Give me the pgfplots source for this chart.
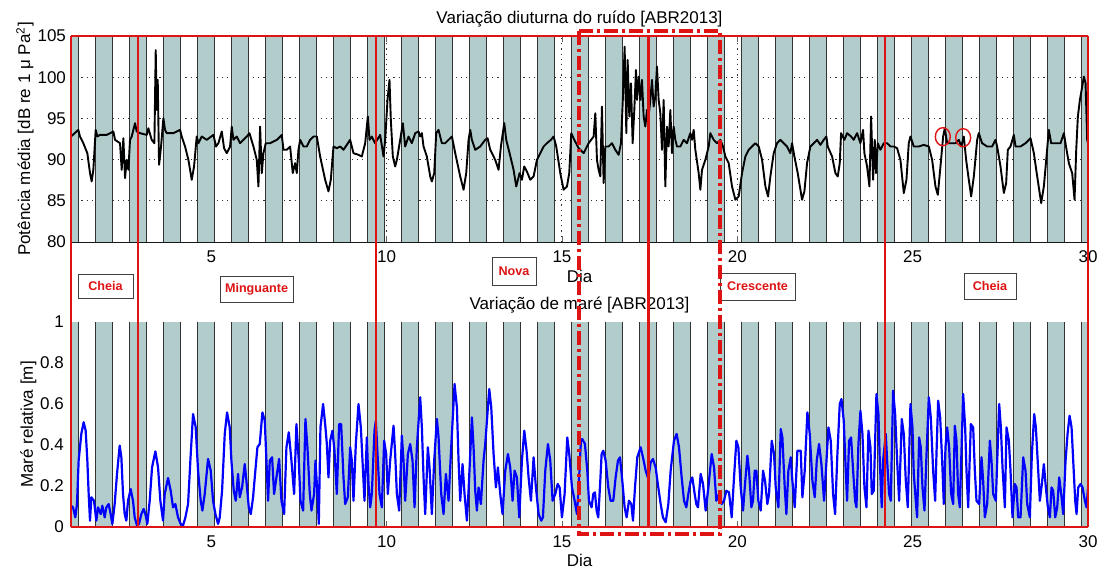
\documentclass[border=0pt]{standalone}
\usepackage{fontspec}
\setmainfont{Liberation Sans}
\usepackage{pgfplots}
\usepackage{pgfplotstable}
\pgfplotsset{compat=1.18}

\definecolor{banda}{RGB}{178,204,204}
\definecolor{vermelho}{RGB}{222,20,20}

% faixas noturnas: x, topo/base (ruido), topo/base (mare), linhas
\pgfplotstableread{
x a b e f
1.000 105 1 105 1
1.221 80 0 105 1
1.700 105 1 105 1
2.190 80 0 105 1
2.669 105 1 105 1
3.159 80 0 105 1
3.638 105 1 105 1
4.128 80 0 105 1
4.607 105 1 105 1
5.097 80 0 105 1
5.576 105 1 105 1
6.066 80 0 105 1
6.545 105 1 105 1
7.035 80 0 105 1
7.514 105 1 105 1
8.004 80 0 105 1
8.483 105 1 105 1
8.973 80 0 105 1
9.452 105 1 105 1
9.942 80 0 105 1
10.421 105 1 105 1
10.911 80 0 105 1
11.390 105 1 105 1
11.880 80 0 105 1
12.359 105 1 105 1
12.849 80 0 105 1
13.328 105 1 105 1
13.818 80 0 105 1
14.297 105 1 105 1
14.787 80 0 105 1
15.266 105 1 105 1
15.756 80 0 105 1
16.235 105 1 105 1
16.725 80 0 105 1
17.204 105 1 105 1
17.694 80 0 105 1
18.173 105 1 105 1
18.663 80 0 105 1
19.142 105 1 105 1
19.632 80 0 105 1
20.111 105 1 105 1
20.601 80 0 105 1
21.080 105 1 105 1
21.570 80 0 105 1
22.049 105 1 105 1
22.539 80 0 105 1
23.018 105 1 105 1
23.508 80 0 105 1
23.987 105 1 105 1
24.477 80 0 105 1
24.956 105 1 105 1
25.446 80 0 105 1
25.925 105 1 105 1
26.415 80 0 105 1
26.894 105 1 105 1
27.384 80 0 105 1
27.863 105 1 105 1
28.353 80 0 105 1
28.832 105 1 105 1
29.322 80 0 105 1
29.801 105 1 105 1
30.000 105 1 105 1
}\bandas

\begin{document}
\fontsize{8.5}{10}\selectfont
\begin{tikzpicture}[x=1pt,y=1pt]
\useasboundingbox (0,0) rectangle (551.5,284.5);
\pgfplotsset{
  painel/.style={
    scale only axis, width=508.5pt,
    xmin=1, xmax=30, xtick={5,10,15,20,25,30},
    tick align=inside, major tick length=3pt,
    tick style={black!60, line width=0.4pt},
    /pgf/number format/assume math mode=true,
    ticklabel style={font=\fontsize{8.5}{10}\selectfont},
    xticklabel style={yshift=-1.4pt},
    label style={font=\fontsize{8.5}{10}\selectfont},
    title style={font=\fontsize{8.5}{10}\selectfont,
      at={(axis description cs:0.5,1)}, anchor=center, yshift=2.7pt},
    xlabel style={at={(axis description cs:0.5,0)}, anchor=center},
    axis line style={black, line width=0.5pt},
  }
}

% ---------- ruido ----------
\begin{axis}[painel,
  at={(35.5pt,163.5pt)}, anchor=south west, height=103pt,
  ymin=80, ymax=105, ytick={80,85,90,95,100,105},
  yticklabel style={xshift=0.5pt},
  grid=major,
  grid style={black!80, line width=0.5pt, dash pattern=on 0.6pt off 2pt},
  title={Variação diuturna do ruído [ABR2013]},
  xlabel={Dia}, xlabel style={yshift=-17.3pt},
  ylabel={Potência média [dB re 1 μ Pa\textsuperscript{2}]},
  ylabel style={at={(axis description cs:-0.0452,0.5)}, anchor=center},
]
\addplot[const plot, fill=banda, draw=none] table[x=x,y=a]{\bandas} \closedcycle;
\addplot[ycomb, draw=black!80, line width=0.45pt, mark=none] table[x=x,y=e]{\bandas};
\addplot[black, line width=0.95pt, line join=round] coordinates {
(1.000,92.80)(1.209,93.61)(1.257,92.80)(1.352,91.99)(1.466,90.78)(1.542,88.36)(1.590,87.35)(1.637,88.76)
(1.704,93.61)(1.751,92.80)(1.827,93.00)(2.018,93.00)(2.208,93.41)(2.255,92.40)(2.398,91.99)(2.446,88.76)
(2.493,92.60)(2.541,87.75)(2.588,89.97)(2.636,88.76)(2.683,92.40)(2.731,92.80)(2.826,94.42)(2.873,93.41)
(2.969,93.21)(3.159,93.00)(3.206,93.81)(3.301,92.40)(3.378,91.99)(3.416,103.30)(3.444,96.03)(3.473,99.67)
(3.511,89.37)(3.568,91.59)(3.634,95.02)(3.682,93.61)(3.729,93.21)(3.920,93.21)(4.110,93.61)(4.157,92.80)
(4.252,91.59)(4.348,89.97)(4.443,87.55)(4.509,89.17)(4.585,92.80)(4.633,91.99)(4.728,92.80)(4.871,92.40)
(5.061,93.00)(5.137,91.59)(5.203,91.99)(5.299,93.41)(5.365,91.39)(5.441,90.78)(5.536,91.59)(5.584,94.01)
(5.631,92.40)(5.727,92.80)(5.822,91.99)(6.012,92.80)(6.088,93.21)(6.202,91.59)(6.297,89.97)(6.345,86.74)
(6.392,94.01)(6.440,88.36)(6.487,90.78)(6.554,91.99)(6.680,91.99)(6.870,92.40)(7.010,93.00)(7.058,91.19)
(7.153,91.19)(7.248,91.59)(7.324,88.36)(7.391,89.57)(7.438,88.36)(7.486,91.19)(7.534,92.40)(7.629,91.59)
(7.724,91.59)(7.819,92.40)(7.914,92.80)(8.009,92.80)(8.104,90.38)(8.247,87.55)(8.342,86.14)(8.408,87.55)
(8.485,91.59)(8.580,91.39)(8.675,91.59)(8.770,91.19)(8.960,92.40)(9.055,90.78)(9.198,90.58)(9.293,90.38)
(9.388,91.99)(9.464,95.23)(9.512,92.40)(9.578,92.80)(9.673,91.99)(9.816,93.00)
(9.911,90.38)(9.959,92.40)(10.025,97.24)(10.082,99.67)(10.120,94.82)(10.177,90.38)(10.244,89.17)(10.292,89.97)
(10.387,92.40)(10.463,94.42)(10.529,91.59)(10.624,92.80)(10.719,91.99)(10.815,93.21)(10.910,93.41)(10.957,92.80)
(11.005,93.21)(11.052,91.59)(11.147,90.38)(11.243,87.96)(11.290,87.35)(11.357,88.36)(11.414,93.21)(11.480,93.61)
(11.575,91.99)(11.670,91.99)(11.766,92.40)(11.861,92.80)(11.956,90.78)(12.098,87.96)(12.194,86.34)(12.270,88.36)
(12.336,92.40)(12.384,93.61)(12.431,92.40)(12.526,91.19)(12.669,91.59)(12.812,92.40)(12.878,92.60)(12.954,91.19)
(13.097,89.97)(13.192,88.76)(13.259,91.59)(13.354,94.42)(13.411,92.40)(13.506,90.78)(13.620,88.76)(13.696,86.74)
(13.791,88.36)(13.858,87.55)(13.924,89.17)(14.000,88.56)(14.096,87.55)(14.191,87.96)(14.286,89.97)(14.381,90.78)
(14.476,91.59)(14.571,91.99)(14.685,92.40)(14.761,92.80)(14.837,91.59)(14.952,88.36)(15.047,86.34)(15.142,86.74)
(15.208,88.36)(15.265,93.21)(15.351,92.40)(15.475,91.39)(15.617,90.78)(15.760,91.99)(15.903,92.80)(15.950,95.63)
(15.998,89.97)(16.045,88.76)(16.093,87.96)(16.140,96.44)(16.188,87.15)(16.235,91.59)(16.330,91.59)(16.426,91.99)
(16.521,91.19)(16.616,90.58)(16.683,91.99)(16.739,97.65)(16.787,103.71)(16.835,93.21)(16.873,102.09)(16.920,95.23)
(16.968,99.26)(17.015,91.99)(17.063,96.03)(17.110,100.88)(17.139,97.24)(17.187,100.07)(17.234,97.24)(17.282,99.67)
(17.329,95.23)(17.377,94.01)(17.424,96.03)(17.472,95.23)(17.519,97.24)(17.567,99.67)(17.614,96.44)(17.662,97.65)
(17.709,101.28)(17.757,97.24)(17.805,95.63)(17.852,91.19)(17.900,97.24)(17.947,86.74)(17.995,94.01)(18.042,91.59)
(18.090,96.03)(18.137,90.78)(18.185,94.01)(18.232,92.40)(18.280,91.59)(18.375,91.59)(18.470,92.40)(18.565,91.99)
(18.661,93.21)(18.708,92.40)(18.756,93.61)(18.803,91.19)(18.898,88.36)(18.946,86.34)(18.993,88.76)(19.089,89.97)
(19.184,91.59)(19.231,93.21)(19.326,92.40)(19.421,91.99)(19.516,92.40)(19.592,91.59)(19.659,90.38)(19.754,89.57)
(19.849,86.74)(19.944,85.13)(20.039,85.53)(20.135,88.36)(20.230,90.38)(20.325,91.19)(20.420,91.59)(20.515,91.99)
(20.610,91.59)(20.706,89.97)(20.801,86.74)(20.877,85.53)(20.943,87.96)(21.038,90.78)(21.133,91.99)(21.228,92.40)
(21.323,91.99)(21.418,91.59)(21.513,90.78)(21.561,91.99)(21.627,90.38)(21.722,88.36)(21.846,85.13)(21.913,86.14)
(21.989,89.57)(22.084,91.59)(22.179,91.99)(22.274,92.40)(22.369,91.79)(22.464,92.40)(22.540,92.80)(22.578,91.59)
(22.702,90.38)(22.797,88.36)(22.864,87.96)(22.921,89.57)(22.959,93.21)(23.054,92.40)(23.130,93.21)(23.244,92.80)
(23.320,92.40)(23.415,93.21)(23.510,91.99)(23.586,93.61)(23.624,90.78)(23.700,89.17)(23.767,86.74)(23.815,95.23)
(23.872,87.55)(23.919,92.40)(23.957,88.36)(24.005,91.99)(24.081,91.19)(24.176,91.99)(24.271,91.99)(24.366,91.59)
(24.461,91.59)(24.556,91.39)(24.651,89.97)(24.747,85.94)(24.823,87.55)(24.889,91.99)(24.937,92.80)(25.032,91.59)
(25.175,91.59)(25.317,91.79)(25.460,91.59)(25.555,89.97)(25.650,86.74)(25.717,85.73)(25.793,89.17)(25.869,92.80)
(25.916,93.81)(25.983,91.99)(26.078,91.99)(26.221,91.99)(26.316,92.40)(26.383,91.59)(26.458,92.80)(26.525,89.97)
(26.601,87.55)(26.668,85.53)(26.744,87.96)(26.839,92.40)(26.886,93.21)(26.981,91.99)(27.124,91.59)(27.267,91.59)
(27.362,92.40)(27.409,91.59)(27.505,89.17)(27.600,85.94)(27.666,87.15)(27.714,91.19)(27.790,91.59)(27.885,93.00)
(27.933,91.59)(28.075,91.59)(28.218,91.99)(28.360,92.60)(28.456,90.78)(28.551,87.96)(28.665,84.72)(28.741,86.74)
(28.817,90.38)(28.883,93.61)(28.950,91.99)(29.074,91.99)(29.216,91.99)(29.312,93.21)(29.388,91.19)(29.454,89.57)
(29.549,88.36)(29.616,85.13)(29.664,91.19)(29.711,95.23)(29.768,97.24)(29.835,98.86)(29.882,100.07)(29.930,99.26)
(29.977,92.40)(30.000,91.99)
};
\addplot[only marks, mark=o, mark size=4.5pt,
  mark options={draw=vermelho, line width=0.7pt, xscale=0.83}]
  coordinates {(25.86,92.78) (26.44,92.66)};
\coordinate (a0) at (axis cs:1,105);
\coordinate (a1) at (axis cs:2.90,105);
\coordinate (a2) at (axis cs:9.69,105);
\coordinate (a3) at (axis cs:17.47,105);
\coordinate (a4) at (axis cs:24.21,105);
\coordinate (a5) at (axis cs:30,105);
\coordinate (c0) at (axis cs:15.48,105);
\coordinate (c1) at (axis cs:19.51,105);
\end{axis}

% ---------- mare ----------
\begin{axis}[painel,
  at={(35.5pt,21pt)}, anchor=south west, height=102.5pt,
  ymin=0, ymax=1, ytick={0,0.2,0.4,0.6,0.8,1},
  axis x line*=bottom, axis y line*=left, axis line style={-},
  yticklabel style={xshift=-0.6pt},
  title={Variação de maré [ABR2013]},
  xlabel={Dia}, xlabel style={yshift=-16.5pt},
  ylabel={Maré relativa [m]},
  ylabel style={at={(axis description cs:-0.0419,0.5)}, anchor=center},
]
\addplot[const plot, fill=banda, draw=none] table[x=x,y=b]{\bandas} \closedcycle;
\addplot[ycomb, draw=black!80, line width=0.45pt, mark=none] table[x=x,y=f]{\bandas};
\addplot[blue, line width=1.1pt, line join=round] coordinates {
(1.000,0.104)(1.057,0.096)(1.123,0.047)(1.171,0.112)(1.218,0.324)(1.294,0.454)(1.361,0.511)(1.418,0.470)
(1.466,0.324)(1.504,0.161)(1.542,0.031)(1.580,0.145)(1.656,0.128)(1.722,0.031)(1.770,0.096)(1.846,0.063)
(1.894,0.104)(1.960,0.047)(2.008,0.096)(2.074,0.112)(2.131,0.063)(2.179,0.015)(2.245,0.112)(2.312,0.259)
(2.388,0.397)(2.436,0.340)(2.483,0.161)(2.531,0.063)(2.578,0.031)(2.626,0.128)(2.702,0.185)(2.768,0.128)
(2.816,0.047)(2.883,0.007)(2.940,0.015)(3.006,0.063)(3.073,0.088)(3.120,0.063)(3.177,0.015)(3.244,0.128)
(3.311,0.291)(3.406,0.369)(3.482,0.291)(3.548,0.128)(3.624,0.031)(3.672,0.161)(3.767,0.239)(3.843,0.177)
(3.910,0.096)(3.976,0.112)(4.052,0.047)(4.128,0.015)(4.195,0.007)(4.262,0.047)(4.338,0.112)(4.414,0.356)
(4.480,0.551)(4.556,0.486)(4.623,0.275)(4.699,0.128)(4.747,0.080)(4.813,0.161)(4.908,0.332)(4.984,0.275)
(5.051,0.128)(5.118,0.063)(5.194,0.015)(5.241,0.047)(5.308,0.177)(5.384,0.454)(5.450,0.559)(5.526,0.486)
(5.574,0.324)(5.641,0.177)(5.698,0.128)(5.764,0.259)(5.812,0.145)(5.878,0.193)(5.954,0.307)(6.002,0.226)
(6.069,0.096)(6.126,0.063)(6.192,0.145)(6.240,0.242)(6.316,0.389)(6.382,0.405)(6.458,0.559)(6.525,0.519)
(6.573,0.324)(6.620,0.128)(6.668,0.324)(6.734,0.340)(6.791,0.161)(6.858,0.242)(6.934,0.332)(7.001,0.128)
(7.077,0.063)(7.143,0.389)(7.210,0.462)(7.286,0.324)(7.362,0.161)(7.428,0.502)(7.495,0.324)(7.543,0.128)
(7.619,0.080)(7.685,0.527)(7.742,0.389)(7.809,0.161)(7.857,0.080)(7.932,0.161)(7.971,0.324)(8.028,0.161)
(8.066,0.015)(8.113,0.486)(8.189,0.600)(8.256,0.486)
(8.295,0.405)(8.342,0.242)(8.390,0.421)(8.456,0.470)(8.513,0.372)(8.580,0.161)(8.646,0.502)(8.703,0.502)
(8.770,0.242)(8.818,0.112)(8.894,0.145)(8.960,0.389)(9.008,0.324)(9.055,0.128)(9.122,0.405)(9.198,0.600)
(9.265,0.486)(9.312,0.324)(9.369,0.128)(9.436,0.437)(9.483,0.210)(9.531,0.096)(9.578,0.161)(9.654,0.470)
(9.693,0.519)(9.750,0.324)(9.797,0.161)(9.864,0.096)(9.930,0.421)(9.987,0.356)(10.035,0.161)(10.101,0.324)
(10.197,0.494)(10.244,0.356)(10.292,0.161)(10.358,0.080)(10.434,0.446)(10.482,0.324)(10.529,0.128)(10.606,0.356)
(10.672,0.405)(10.739,0.324)(10.796,0.096)(10.862,0.389)(10.957,0.633)(11.005,0.486)(11.053,0.242)(11.100,0.063)
(11.176,0.389)(11.224,0.291)(11.290,0.063)(11.357,0.324)(11.433,0.527)(11.481,0.437)(11.557,0.161)(11.623,0.063)
(11.690,0.259)(11.766,0.128)(11.842,0.389)(11.937,0.698)(12.004,0.584)(12.051,0.324)(12.099,0.128)(12.165,0.307)
(12.222,0.161)(12.289,0.031)(12.336,0.177)(12.432,0.535)(12.479,0.389)(12.527,0.177)(12.574,0.080)(12.622,0.193)
(12.688,0.112)(12.764,0.324)(12.812,0.405)(12.926,0.673)(12.983,0.584)(13.050,0.356)(13.116,0.193)(13.173,0.291)
(13.240,0.161)(13.306,0.063)(13.383,0.275)(13.459,0.356)(13.525,0.291)(13.592,0.128)(13.649,0.275)(13.715,0.242)
(13.782,0.047)(13.858,0.324)(13.925,0.470)(13.991,0.372)(14.048,0.242)(14.115,0.128)(14.191,0.340)(14.257,0.193)
(14.334,0.063)(14.410,0.031)(14.457,0.047)(14.524,0.275)(14.600,0.405)(14.666,0.324)(14.733,0.128)(14.809,0.161)
(14.876,0.210)(14.933,0.193)(14.999,0.047)(15.075,0.161)(15.151,0.437)(15.208,0.356)(15.285,0.193)(15.361,0.128)
(15.427,0.063)(15.475,0.193)(15.541,0.421)
(15.579,0.429)(15.655,0.405)(15.722,0.275)(15.769,0.128)(15.845,0.096)(15.893,0.161)(15.940,0.169)(15.988,0.080)
(16.035,0.047)(16.083,0.193)(16.131,0.356)(16.178,0.372)(16.245,0.324)(16.321,0.193)(16.387,0.128)(16.463,0.128)
(16.530,0.242)(16.597,0.324)(16.654,0.340)(16.720,0.226)(16.787,0.096)(16.844,0.047)(16.910,0.128)(16.977,0.112)
(17.025,0.031)(17.082,0.193)(17.148,0.340)(17.243,0.389)(17.310,0.340)(17.386,0.275)(17.462,0.234)(17.529,0.315)
(17.595,0.332)(17.671,0.291)(17.747,0.193)(17.814,0.112)(17.880,0.047)(17.957,0.023)(18.033,0.112)(18.099,0.275)
(18.194,0.421)(18.270,0.454)(18.337,0.389)(18.413,0.242)(18.480,0.128)(18.546,0.096)(18.603,0.161)(18.670,0.226)
(18.717,0.242)(18.784,0.161)(18.831,0.112)(18.879,0.096)(18.955,0.259)(19.022,0.210)(19.098,0.080)(19.174,0.193)
(19.269,0.356)(19.336,0.291)(19.402,0.128)(19.478,0.161)(19.554,0.112)(19.621,0.128)(19.687,0.177)(19.763,0.169)
(19.840,0.047)(19.906,0.242)(19.973,0.421)(20.030,0.389)(20.096,0.193)(20.163,0.080)(20.220,0.210)(20.287,0.348)
(20.334,0.275)(20.401,0.096)(20.448,0.128)(20.496,0.275)(20.543,0.275)(20.600,0.128)(20.667,0.080)(20.734,0.275)
(20.790,0.226)(20.857,0.112)(20.905,0.161)(20.981,0.421)(21.047,0.356)(21.095,0.193)(21.171,0.096)(21.238,0.478)
(21.285,0.437)(21.352,0.193)(21.399,0.063)(21.456,0.275)(21.523,0.340)(21.570,0.226)(21.637,0.096)(21.713,0.372)
(21.808,0.372)(21.856,0.145)(21.922,0.275)(21.998,0.559)(22.065,0.454)(22.141,0.226)(22.208,0.145)(22.265,0.324)
(22.331,0.405)(22.398,0.307)(22.474,0.128)(22.521,0.259)(22.598,0.486)(22.664,0.421)(22.731,0.161)(22.788,0.063)
(22.854,0.356)(22.921,0.600)
(22.969,0.624)(23.035,0.519)(23.092,0.275)(23.130,0.128)(23.187,0.421)(23.244,0.437)(23.302,0.275)(23.359,0.128)
(23.397,0.096)(23.454,0.405)(23.511,0.567)(23.568,0.454)(23.625,0.193)(23.682,0.096)(23.739,0.470)(23.796,0.389)
(23.834,0.161)(23.891,0.177)(23.967,0.649)(24.024,0.551)(24.062,0.324)(24.119,0.096)(24.157,0.324)(24.234,0.454)
(24.272,0.324)(24.329,0.161)(24.376,0.128)(24.443,0.665)(24.500,0.551)(24.557,0.324)(24.614,0.128)(24.690,0.527)
(24.747,0.454)(24.804,0.226)(24.861,0.096)(24.937,0.600)(24.994,0.486)(25.032,0.259)(25.089,0.128)(25.127,0.047)
(25.185,0.437)(25.232,0.389)(25.280,0.193)(25.337,0.080)(25.394,0.348)(25.460,0.633)(25.517,0.535)(25.584,0.275)
(25.641,0.128)(25.679,0.356)(25.727,0.616)(25.784,0.535)(25.841,0.324)(25.888,0.112)(25.936,0.389)(25.983,0.486)
(26.040,0.389)(26.098,0.161)(26.155,0.112)(26.202,0.494)(26.250,0.421)(26.297,0.161)(26.345,0.096)(26.440,0.649)
(26.497,0.486)(26.535,0.275)(26.583,0.096)(26.659,0.502)(26.725,0.486)(26.773,0.275)(26.820,0.128)(26.896,0.112)
(26.963,0.340)(27.010,0.226)(27.058,0.047)(27.125,0.112)(27.201,0.421)(27.248,0.324)(27.296,0.161)(27.372,0.128)
(27.467,0.600)(27.515,0.486)(27.562,0.291)(27.629,0.096)(27.676,0.486)(27.743,0.421)(27.790,0.275)(27.847,0.047)
(27.914,0.210)(27.962,0.193)(28.009,0.047)(28.076,0.047)(28.152,0.340)(28.218,0.275)(28.266,0.112)(28.342,0.047)
(28.399,0.356)(28.466,0.551)(28.513,0.486)(28.580,0.275)(28.627,0.128)(28.684,0.210)(28.741,0.307)(28.798,0.193)
(28.856,0.096)(28.913,0.047)(28.960,0.193)(29.008,0.177)(29.065,0.047)(29.122,0.096)(29.179,0.242)(29.236,0.161)
(29.293,0.063)(29.360,0.324)(29.417,0.454)(29.474,0.543)(29.531,0.486)(29.578,0.324)(29.635,0.128)(29.673,0.063)
(29.721,0.193)(29.787,0.210)(29.844,0.193)(29.911,0.128)(29.959,0.096)(30.000,0.193)
};
\coordinate (b0) at (axis cs:1,0);
\coordinate (b1) at (axis cs:2.90,0);
\coordinate (b2) at (axis cs:9.69,0);
\coordinate (b3) at (axis cs:17.47,0);
\coordinate (b4) at (axis cs:24.21,0);
\coordinate (b5) at (axis cs:30,0);
\coordinate (d0) at (axis cs:15.48,0);
\coordinate (d1) at (axis cs:19.51,0);
\end{axis}

% ---------- fases da lua ----------
\tikzset{fase/.style={draw=black!75, fill=white, line width=0.5pt, text=vermelho,
  font=\fontsize{6.3}{7}\selectfont\bfseries, inner sep=0.5pt}}
\node[fase, minimum width=27.5pt, minimum height=12.3pt] at (52.75,141.35) {Cheia};
\node[fase, minimum width=36.5pt, minimum height=13.3pt] at (128.25,139.85) {Minguante};
\node[fase, minimum width=22pt, minimum height=14pt] at (257,149) {Nova};
\node[fase, minimum width=37.5pt, minimum height=13.5pt] at (378.75,141.25) {Crescente};
\node[fase, minimum width=26pt, minimum height=13pt] at (495,141.5) {Cheia};

\draw[vermelho, line width=1.1pt] (a0) -- (a5);
\draw[vermelho, line width=1.1pt] (b0) -- (b5);
\foreach \i in {0,...,5} {\draw[vermelho, line width=1.1pt] (a\i) -- (b\i);}
\draw[vermelho, line width=1.8pt, dash pattern=on 7pt off 2pt on 1.5pt off 2pt]
  ([yshift=2.5pt]c0) -- ([yshift=2.5pt]c1) -- ([yshift=-3.5pt]d1) -- ([yshift=-3.5pt]d0) -- cycle;
\end{tikzpicture}
\end{document}
